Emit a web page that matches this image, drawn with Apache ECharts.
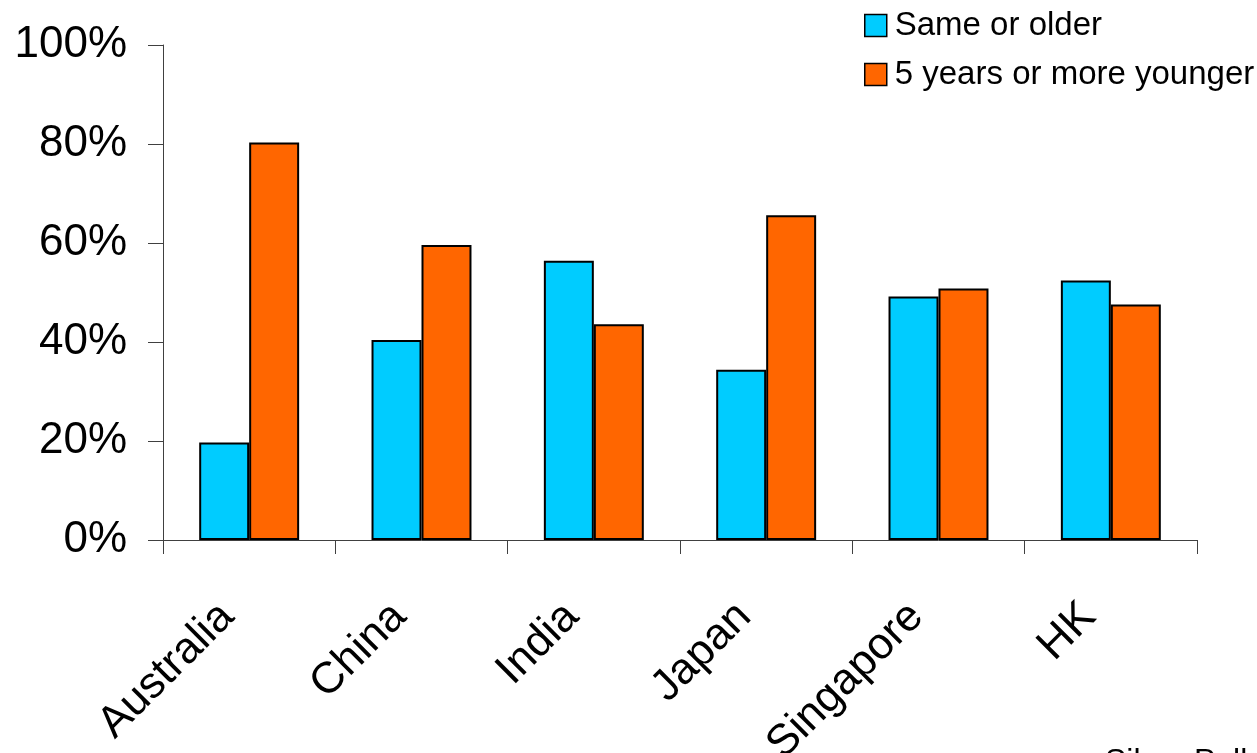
<!DOCTYPE html>
<html>
<head>
<meta charset="utf-8">
<script src="https://cdn.jsdelivr.net/npm/echarts@6/dist/echarts.min.js"></script>
<style>
  html, body { margin: 0; padding: 0; background: #fff; }
  #chart { width: 1257px; height: 753px; }
</style>
</head>
<body>
<div id="chart"></div>
<script>
// Countries surveyed
const countries = ['Australia', 'China', 'India', 'Japan', 'Singapore', 'HK'];
// Share of respondents (%) by partner's age
const sameOrOlder = [19.7, 40.4, 56.4, 34.4, 49.2, 52.4];
const fiveYearsYounger = [80.3, 59.6, 43.6, 65.6, 50.8, 47.6];
const seriesNames = ['Same or older', '5 years or more younger'];
const sourceNote = 'Silver Poll';

const FONT = '"Liberation Sans", Arial, sans-serif';
const axisColor = '#404040';

const chart = echarts.init(document.getElementById('chart'), null, { renderer: 'canvas' });

chart.setOption({
  animation: false,
  backgroundColor: '#ffffff',
  textStyle: { fontFamily: FONT, color: '#000' },
  grid: {
    left: 163, right: 60, top: 45, bottom: 213,
    containLabel: false,
    outerBoundsMode: 'none'
  },
  legend: {
    orient: 'vertical',
    left: 859,
    top: 4,
    itemWidth: 22,
    itemHeight: 22,
    itemGap: 16,
    icon: 'rect',
    data: seriesNames,
    itemStyle: { borderColor: '#000', borderWidth: 1.5 },
    textStyle: { fontFamily: FONT, fontSize: 33, lineHeight: 33, color: '#000', padding: [0, 0, 0, 3] }
  },
  xAxis: {
    type: 'category',
    data: countries,
    boundaryGap: true,
    axisLine: { show: true, lineStyle: { color: axisColor, width: 1 } },
    axisTick: { show: true, length: 14, inside: false, lineStyle: { color: axisColor, width: 1 } },
    axisLabel: {
      rotate: 45,
      interval: 0,
      margin: 48,
      padding: [0, 31, 0, 0],
      fontFamily: FONT,
      fontSize: 44,
      color: '#000'
    },
    splitLine: { show: false }
  },
  yAxis: {
    type: 'value',
    min: 0,
    max: 100,
    interval: 20,
    axisLine: { show: true, lineStyle: { color: axisColor, width: 1 } },
    axisTick: { show: true, length: 15, inside: false, lineStyle: { color: axisColor, width: 1 } },
    axisLabel: {
      formatter: '{value}%',
      margin: 36,
      fontFamily: FONT,
      fontSize: 44,
      color: '#000'
    },
    splitLine: { show: false }
  },
  graphic: [{
    type: 'text',
    left: 1105,
    top: 746,
    style: { text: sourceNote, font: '32px ' + FONT, fill: '#000' }
  }],
  series: [
    {
      name: seriesNames[0],
      type: 'bar',
      data: sameOrOlder,
      barGap: '0%',
      barCategoryGap: '42%',
      itemStyle: { color: '#00CCFF', borderColor: '#000', borderWidth: 2 }
    },
    {
      name: seriesNames[1],
      type: 'bar',
      data: fiveYearsYounger,
      barGap: '0%',
      barCategoryGap: '42%',
      itemStyle: { color: '#FF6600', borderColor: '#000', borderWidth: 2 }
    }
  ]
});
</script>
</body>
</html>
